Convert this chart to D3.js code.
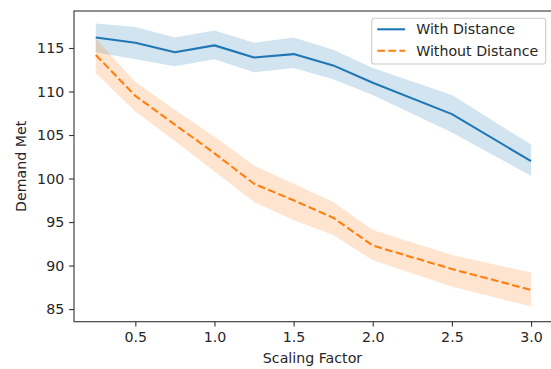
<!DOCTYPE html>
<html>
<head>
<meta charset="utf-8">
<script src="https://cdn.jsdelivr.net/npm/d3@7"></script>
<style>
  html, body { margin: 0; padding: 0; background: #fff; }
  svg { display: block; }
  text { font-family: "DejaVu Sans", sans-serif; fill: #262626; }
</style>
</head>
<body>
<svg id="chart" width="551" height="369"></svg>
<script>
// ---- data ----
const scalingFactors = [0.25, 0.5, 0.75, 1.0, 1.25, 1.5, 1.75, 2.0, 2.5, 3.0];

const withDistance      = [116.2, 115.6, 114.5, 115.3, 113.9, 114.3, 113.0, 111.0, 107.4, 102.0];
const withDistanceLow   = [114.5, 113.7, 112.9, 113.7, 112.2, 112.7, 111.4, 109.6, 105.3, 100.3];
const withDistanceHigh  = [117.8, 117.4, 116.2, 117.0, 115.6, 116.2, 114.8, 112.7, 109.6, 103.9];

const withoutDistance     = [114.2, 109.5, 106.2, 102.9, 99.4, 97.5, 95.5, 92.3, 89.6, 87.2];
const withoutDistanceLow  = [112.1, 107.7, 104.3, 100.8, 97.3, 95.2, 93.5, 90.6, 87.6, 85.3];
const withoutDistanceHigh = [116.1, 111.1, 107.9, 104.8, 101.5, 99.4, 97.3, 94.1, 91.2, 89.2];

const xTicks = [0.5, 1.0, 1.5, 2.0, 2.5, 3.0];
const xTickLabels = ["0.5", "1.0", "1.5", "2.0", "2.5", "3.0"];
const yTicks = [85, 90, 95, 100, 105, 110, 115];
const yTickLabels = ["85", "90", "95", "100", "105", "110", "115"];

const seriesNames = ["With Distance", "Without Distance"];
const xLabel = "Scaling Factor";
const yLabel = "Demand Met";

// ---- layout ----
const mLeft = 74, mRight = 552.8, mTop = 11, mBottom = 321.7;
const fontSize = 14.2;
const svg = d3.select("#chart");

const x = d3.scaleLinear().domain([0.1125, 3.1375]).range([mLeft, mRight]);
const y = d3.scaleLinear().domain([83.55, 119.25]).range([mBottom, mTop]);

const blue = "#1f77b4", orange = "#ff7f0e";

const series = [
  { name: seriesNames[0], mid: withDistance, lo: withDistanceLow, hi: withDistanceHigh, color: blue, dash: null },
  { name: seriesNames[1], mid: withoutDistance, lo: withoutDistanceLow, hi: withoutDistanceHigh, color: orange, dash: "7.7,3.3" }
];

svg.append("clipPath").attr("id", "plotclip")
  .append("rect").attr("x", mLeft).attr("y", mTop).attr("width", mRight - mLeft).attr("height", mBottom - mTop);

const plot = svg.append("g").attr("clip-path", "url(#plotclip)");

const area = d3.area()
  .x((d, i) => x(scalingFactors[i]))
  .y0(d => y(d[0]))
  .y1(d => y(d[1]));
const line = d3.line()
  .x((d, i) => x(scalingFactors[i]))
  .y(d => y(d));

series.forEach(s => {
  const pairs = s.lo.map((v, i) => [v, s.hi[i]]);
  plot.append("path")
    .attr("d", area(pairs))
    .attr("fill", s.color)
    .attr("fill-opacity", 0.2)
    .attr("stroke", "none");
});
series.forEach(s => {
  plot.append("path")
    .attr("d", line(s.mid))
    .attr("fill", "none")
    .attr("stroke", s.color)
    .attr("stroke-width", 2.1)
    .attr("stroke-dasharray", s.dash)
    .attr("stroke-linejoin", "round");
});

// axes
const xAxis = d3.axisBottom(x).tickValues(xTicks)
  .tickFormat((d, i) => xTickLabels[i]).tickSizeOuter(0).tickSize(4.9).tickPadding(4.9);
const yAxis = d3.axisLeft(y).tickValues(yTicks)
  .tickFormat((d, i) => yTickLabels[i]).tickSizeOuter(0).tickSize(4.9).tickPadding(4.9);

const gx = svg.append("g").attr("transform", `translate(0,${mBottom})`).call(xAxis);
const gy = svg.append("g").attr("transform", `translate(${mLeft},0)`).call(yAxis);
[gx, gy].forEach(g => {
  g.select(".domain").remove();
  g.selectAll(".tick line").attr("stroke", "#333").attr("stroke-width", 1.1);
  g.selectAll(".tick text").attr("fill", "#262626")
    .style("font-family", "DejaVu Sans, sans-serif").style("font-size", fontSize + "px");
});

// spines
svg.append("rect")
  .attr("x", mLeft).attr("y", mTop)
  .attr("width", mRight - mLeft).attr("height", mBottom - mTop)
  .attr("fill", "none").attr("stroke", "#333").attr("stroke-width", 1.1);

// axis labels
svg.append("text")
  .attr("x", 312.5).attr("y", 362.5)
  .attr("text-anchor", "middle")
  .style("font-size", fontSize + "px")
  .text(xLabel);
svg.append("text")
  .attr("transform", `translate(26,${(mTop + mBottom) / 2}) rotate(-90)`)
  .attr("text-anchor", "middle")
  .style("font-size", fontSize + "px")
  .text(yLabel);

// legend
const lg = svg.append("g");
lg.append("rect")
  .attr("x", 371.7).attr("y", 18.3).attr("width", 174).attr("height", 45.7)
  .attr("rx", 2.8).attr("ry", 2.8)
  .attr("fill", "#fff").attr("fill-opacity", 0.8)
  .attr("stroke", "#cccccc").attr("stroke-width", 1.1);
series.forEach((s, i) => {
  const cy = 29.3 + i * 21.4;
  lg.append("line")
    .attr("x1", 377.3).attr("x2", 405.1).attr("y1", cy).attr("y2", cy)
    .attr("stroke", s.color).attr("stroke-width", 2.1)
    .attr("stroke-dasharray", s.dash);
  lg.append("text")
    .attr("x", 416.2).attr("y", cy)
    .attr("dy", "0.35em")
    .style("font-size", fontSize + "px")
    .text(s.name);
});
</script>
</body>
</html>
